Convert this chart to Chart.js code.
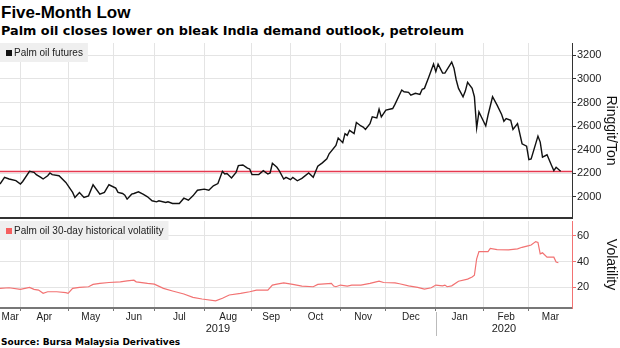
<!DOCTYPE html>
<html>
<head>
<meta charset="utf-8">
<script src="https://cdn.jsdelivr.net/npm/chart.js@4.4.1/dist/chart.umd.min.js"></script>
<style>
  body { margin: 0; width: 620px; height: 348px; background: #fff; position: relative; overflow: hidden; }
  #title { position: absolute; left: 1px; top: 4px; font: bold 17px 'Liberation Sans', Arial, sans-serif; line-height: 1; color: #000; }
  #subtitle { position: absolute; left: 1px; top: 25px; font: bold 12.8px 'DejaVu Sans', sans-serif; line-height: 1; color: #000; }
  #source { position: absolute; left: 1px; top: 338px; font: bold 9px 'DejaVu Sans', sans-serif; line-height: 1; color: #000; }
  .panel { position: absolute; left: 0; width: 620px; }
  #top { top: 40px; height: 179px; }
  #bottom { top: 219px; height: 118px; }
</style>
</head>
<body>
<div id="title">Five-Month Low</div>
<div id="subtitle">Palm oil closes lower on bleak India demand outlook, petroleum</div>
<div class="panel" id="top"><canvas id="priceChart"></canvas></div>
<div class="panel" id="bottom"><canvas id="volChart"></canvas></div>
<div id="source">Source: Bursa Malaysia Derivatives</div>
<script>
// x axis is counted in trading sessions from early March 2019
const xMax = 252;
const monthNames = ['Mar', 'Apr', 'May', 'Jun', 'Jul', 'Aug', 'Sep', 'Oct', 'Nov', 'Dec', 'Jan', 'Feb', 'Mar'];
const monthStarts = [9, 30, 50, 68, 90, 111, 128, 150, 170, 192, 213, 233];
const yearNames = ['2019', '2020'];
const yearStarts = [0, 192];

const priceTicks = [2000, 2200, 2400, 2600, 2800, 3000, 3200];
const volTicks = [20, 40, 60];
const lastClose = 2215;

const priceDays = [0,2,4,7,9,10,13,15,16,18, 19,21,22,23,26,29,32,33,35,37,
  39,41,44,46,48,51,52,54,55,56, 58,59,61,63,65,67,69,70,73,74,
  76,79,81,83,85,87,90,92,94,96, 98,99,100,102,104,105,107,109,110,111,
  114,116,118,119,120,122,123,125,126,128, 129,131,133,136,138,140,142,144,145,148,
  149,151,152,153,154,156,157,159,160,161, 163,164,166,167,168,170,173,174,177,178,
  180,181,183,185,186,187,189,191,192,193, 195,196,199,200,201,202,204,205,206,208,
  209,210,211,214,215,217,219,221,222,223, 225,226,228,230,232,233,234,237,238,239,
  241,243,244,245,247];
const priceValues = [2108,2165,2151,2137,2108,2130,2216,2208,2188,2165, 2151,2179,2202,2188,2179,2122,2037,1994,2037,1994,
  2008,2102,2022,2037,2102,2074,2037,2028,2014,1980, 2022,2028,2042,2022,2000,1966,1957,1966,1952,1957,
  1943,1943,1988,1971,2008,2056,2065,2056,2093,2112, 2216,2193,2198,2159,2207,2264,2270,2244,2236,2188,
  2188,2222,2193,2202,2284,2250,2222,2151,2165,2145, 2165,2136,2156,2202,2165,2259,2288,2322,2365,2436,
  2498,2459,2536,2521,2564,2536,2630,2601,2592,2572, 2621,2678,2669,2743,2678,2735,2749,2784,2906,2891,
  2886,2863,2878,2869,2912,2920,3020,3126,3062,3126, 3049,3049,3143,3091,2991,2920,2849,2897,2972,2920,
  2849,2584,2720,2601,2692,2849,2778,2698,2641,2664, 2649,2572,2621,2450,2430,2316,2322,2515,2464,2336,
  2356,2265,2222,2250,2216];

const volDays = [0,4,9,13,15,17,19,21,25,29, 30,32,35,39,41,44,48,53,56,59,
  60,65,68,72,76,81,85,89,95,98, 101,106,110,113,118,120,122,125,129,133,
  138,140,146,147,148,150,153,155,159,163, 167,169,174,176,180,184,187,190,192,195,
  196,197,199,202,206,208,209,210,211,215, 216,219,224,228,230,233,234,236,237,238,
  239,241,244,245,246];
const volValues = [19.2,19.7,18.5,20,18.5,17.9,15.4,16.6,16.6,15.9, 15.4,19.2,20,20.5,22.3,23.1,23.8,24.3,25.1,25.6,
  24.3,23.1,22.5,19.2,17.2,14.9,12.3,11,9.5,11.6, 14.1,15.4,16.6,17.9,17.9,21.8,22.5,23.5,22.3,21,
  20.5,22.3,23.1,21,20.5,21.8,21,21.8,21.8,23.1, 24.8,23.8,23.5,22.8,21.2,20,18.7,19.7,21.8,21.2,
  21.8,20.5,21.2,24.8,26.4,28.1,29.4,42.2,47.8,47.8, 50.3,49.3,49.1,49.9,51.1,52.4,52.9,55.5,54.9,46,
  46.8,43.4,43.4,39.6,39.1];

const bounds = [0, ...monthStarts, xMax];
const monthMids = monthNames.map((m, i) => (bounds[i] + bounds[i + 1]) / 2);

Chart.defaults.font.family = "'Liberation Sans', Arial, sans-serif";
Chart.defaults.color = '#222';

const gridColor = '#e4e4e4';

// grey box with a square and the first dataset's name, top-left of the plot
const legendBox = {
  id: 'legendBox',
  beforeDatasetsDraw(chart) {
    const { ctx, chartArea } = chart;
    const ds = chart.data.datasets[0];
    ctx.save();
    ctx.font = "10px 'Liberation Sans', Arial, sans-serif";
    const w = ctx.measureText(ds.label).width + 19;
    ctx.fillStyle = '#efefef';
    ctx.fillRect(chartArea.left, chartArea.top, w, 19);
    ctx.fillStyle = ds.legendColor || ds.borderColor;
    ctx.fillRect(chartArea.left + 6, chartArea.top + 7, 6, 6);
    ctx.fillStyle = '#222';
    ctx.textBaseline = 'middle';
    ctx.fillText(ds.label, chartArea.left + 14, chartArea.top + 10);
    ctx.restore();
  }
};

// year names centred on their span, with a divider
const yearAxis = {
  id: 'yearAxis',
  afterDraw(chart) {
    const { ctx, scales: { x } } = chart;
    const ends = [...yearStarts.slice(1), xMax];
    ctx.save();
    ctx.font = "11px 'Liberation Sans', Arial, sans-serif";
    ctx.fillStyle = '#222';
    ctx.textAlign = 'center';
    ctx.textBaseline = 'middle';
    yearNames.forEach((name, i) => {
      ctx.fillText(name, x.getPixelForValue((yearStarts[i] + ends[i]) / 2), x.bottom + 6);
    });
    ctx.strokeStyle = '#bbb';
    ctx.lineWidth = 1;
    yearStarts.slice(1).forEach(v => {
      const px = Math.round(x.getPixelForValue(v)) + 0.5;
      ctx.beginPath();
      ctx.moveTo(px, x.top + 4);
      ctx.lineTo(px, x.bottom + 13);
      ctx.stroke();
    });
    ctx.restore();
  }
};

function rightAxis(min, max, ticks, title, edgeColor) {
  return {
    position: 'right',
    min: min,
    max: max,
    afterBuildTicks: s => { s.ticks = ticks.map(v => ({ value: v })); },
    afterFit: s => { s.width = 48; s.paddingTop = 0; s.paddingBottom = 0; },
    ticks: { font: { size: 11 }, padding: 1, callback: v => String(v) },
    grid: { color: gridColor, tickColor: edgeColor, tickLength: 4 },
    border: { color: edgeColor, width: 1 },
    title: { display: true, text: title, color: '#111', font: { size: 14 }, padding: { top: 1, bottom: 0 } }
  };
}

new Chart(document.getElementById('priceChart'), {
  type: 'line',
  data: {
    datasets: [
      {
        label: 'Palm oil futures',
        data: priceDays.map((d, i) => ({ x: d, y: priceValues[i] })),
        borderColor: '#111',
        borderWidth: 1.4,
        pointRadius: 0
      },
      {
        label: 'Last close',
        data: [{ x: 0, y: lastClose }, { x: xMax, y: lastClose }],
        borderColor: '#e63950',
        borderWidth: 1.5,
        pointRadius: 0
      }
    ]
  },
  options: {
    responsive: true,
    maintainAspectRatio: false,
    animation: false,
    devicePixelRatio: 1,
    layout: { padding: { top: 3, bottom: 1, left: 0, right: 0 } },
    plugins: { legend: { display: false }, tooltip: { enabled: false } },
    scales: {
      x: {
        type: 'linear',
        min: 0,
        max: xMax,
        afterBuildTicks: s => { s.ticks = monthStarts.map(v => ({ value: v })); },
        ticks: { display: false },
        grid: { color: gridColor, drawTicks: false },
        border: { color: '#333', width: 3 }
      },
      y: rightAxis(1820, 3305, priceTicks, 'Ringgit/Ton', '#333')
    }
  },
  plugins: [legendBox]
});

new Chart(document.getElementById('volChart'), {
  type: 'line',
  data: {
    datasets: [
      {
        label: 'Palm oil 30-day historical volatility',
        data: volDays.map((d, i) => ({ x: d, y: volValues[i] })),
        borderColor: '#f27272',
        legendColor: '#f55f5f',
        borderWidth: 1.2,
        pointRadius: 0
      }
    ]
  },
  options: {
    responsive: true,
    maintainAspectRatio: false,
    animation: false,
    devicePixelRatio: 1,
    layout: { padding: { top: 2, bottom: 14, left: 0, right: 0 } },
    plugins: { legend: { display: false }, tooltip: { enabled: false } },
    scales: {
      x: {
        type: 'linear',
        min: 0,
        max: xMax,
        afterBuildTicks: s => {
          s.ticks = [...monthStarts, ...monthMids].sort((a, b) => a - b).map(v => ({ value: v }));
        },
        ticks: {
          autoSkip: false,
          maxRotation: 0,
          minRotation: 0,
          padding: 0,
          font: { size: 10 },
          callback: v => { const i = monthMids.indexOf(v); return i >= 0 ? monthNames[i] : ''; }
        },
        grid: {
          color: c => monthStarts.includes(c.tick.value) ? gridColor : 'rgba(0,0,0,0)',
          tickColor: c => monthStarts.includes(c.tick.value) ? '#777' : 'rgba(0,0,0,0)',
          tickLength: 3
        },
        border: { color: '#777', width: 2 }
      },
      y: rightAxis(4, 71.5, volTicks, 'Volatility', '#f27272')
    }
  },
  plugins: [legendBox, yearAxis]
});
</script>
</body>
</html>
